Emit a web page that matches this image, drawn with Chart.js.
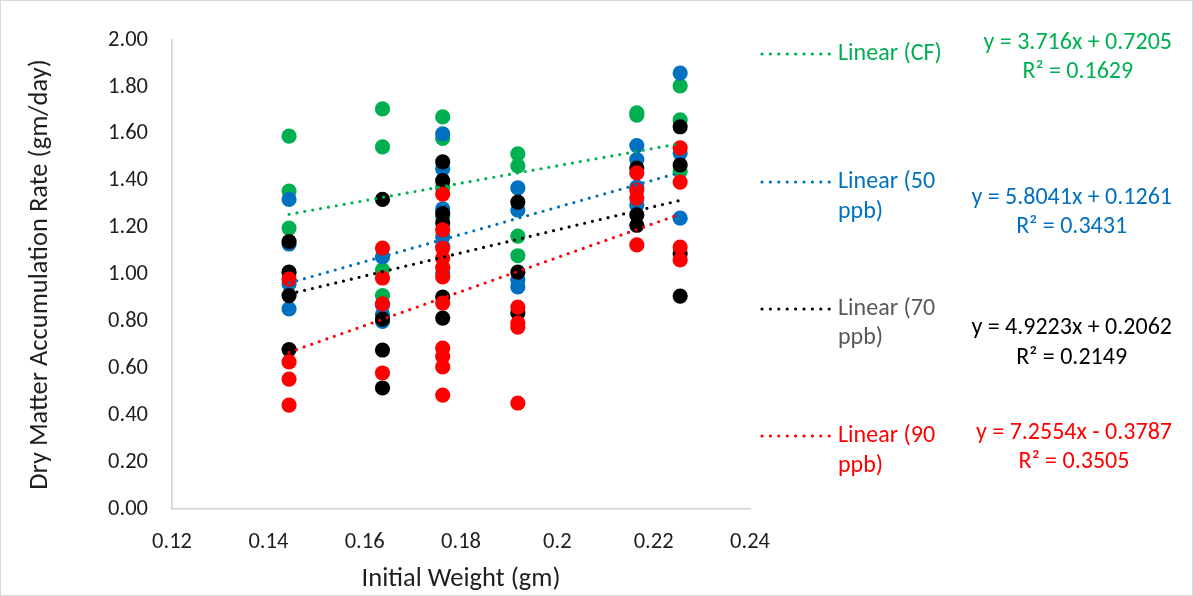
<!DOCTYPE html>
<html>
<head>
<meta charset="utf-8">
<script src="https://cdn.jsdelivr.net/npm/chart.js@4"></script>
<style>
  html, body { margin: 0; padding: 0; background: #fff; }
  #wrap { width: 1193px; height: 596px; position: relative; }
</style>
</head>
<body>
<div id="wrap"><canvas id="dmChart" width="1193" height="596"></canvas></div>
<script>
// initial weights (gm) of the plant groups
const weights = [0.1443, 0.1637, 0.1762, 0.1918, 0.2165, 0.2255];

// dry matter accumulation rate (gm/day), one inner list per weight
const cfRates = [
    [1.59, 1.356, 1.198],
    [1.706, 1.544, 1.02, 0.91],
    [1.672, 1.58, 1.37, 1.245],
    [1.514, 1.463, 1.164, 1.08],
    [1.689, 1.68],
    [1.804, 1.659, 1.44]
];
const ppb50Rates = [
    [1.32, 1.13, 0.96, 0.853],
    [1.075, 0.87, 0.83, 0.80],
    [1.60, 1.45, 1.28, 1.16, 1.12, 1.006],
    [1.369, 1.275, 0.977, 0.947],
    [1.55, 1.49, 1.373, 1.296],
    [1.859, 1.518, 1.24]
];
const ppb70Rates = [
    [1.14, 1.01, 0.91, 0.68],
    [1.32, 0.81, 0.678, 0.516],
    [1.48, 1.40, 1.26, 1.22, 0.904, 0.814],
    [1.309, 1.01, 0.836],
    [1.454, 1.254, 1.21],
    [1.63, 1.467, 1.09, 0.908]
];
const ppb90Rates = [
    [0.98, 0.627, 0.554, 0.443],
    [1.113, 0.985, 0.875, 0.58],
    [1.343, 1.19, 1.113, 1.07, 1.03, 0.99, 0.878, 0.686, 0.65, 0.606, 0.486],
    [0.861, 0.793, 0.776, 0.452],
    [1.433, 1.36, 1.326, 1.126],
    [1.54, 1.394, 1.117, 1.062]
];

// linear trendlines
const trendNames = ['Linear (CF)', 'Linear (50 ppb)', 'Linear (70 ppb)', 'Linear (90 ppb)'];
const slopes = [3.716, 5.8041, 4.9223, 7.2554];
const intercepts = [0.7205, 0.1261, 0.2062, -0.3787];
const rSquared = ['0.1629', '0.3431', '0.2149', '0.3505'];

const colors = ['#00B050', '#0070C0', '#000000', '#FF0000'];
const legendTextColors = ['#00B050', '#0070C0', '#595959', '#FF0000'];

const FONT = "Carlito, Calibri, 'Open Sans', sans-serif";
const TEXT = '#1e1e1e';
const AXIS = '#d0d0d0';

function toPoints(rates) {
    const pts = [];
    rates.forEach((list, i) => list.forEach(v => pts.push({ x: weights[i], y: v })));
    return pts;
}

const allSeries = [cfRates, ppb50Rates, ppb70Rates, ppb90Rates];
const xMin = Math.min(...weights), xMax = Math.max(...weights);

const trendSets = slopes.map((m, i) => ({
    label: trendNames[i],
    data: [{ x: xMin, y: m * xMin + intercepts[i] }, { x: xMax, y: m * xMax + intercepts[i] }],
    showLine: true,
    borderColor: colors[i],
    borderWidth: 3.2,
    borderDash: [0, 8],
    borderCapStyle: 'round',
    pointRadius: 0,
    order: 0
}));

// markers: later series sit on top of earlier ones
const markerSets = allSeries.map((rates, i) => ({
    label: ['CF', '50 ppb', '70 ppb', '90 ppb'][i],
    data: toPoints(rates),
    showLine: false,
    pointRadius: 7.6,
    pointHoverRadius: 7.6,
    pointBackgroundColor: colors[i],
    pointBorderColor: colors[i],
    pointBorderWidth: 0,
    order: 10 - i
}));

const sidePanel = {
    id: 'sidePanel',
    afterDraw(chart) {
        const ctx = chart.ctx;
        ctx.save();
        // outer frame
        ctx.strokeStyle = '#d9d9d9';
        ctx.lineWidth = 1;
        ctx.strokeRect(0.5, 0.5, chart.width - 1, chart.height - 1);

        const legendRows = [[54], [182, 212], [309, 338], [436, 466]];
        const eqRows = [[43, 72], [198, 227], [328, 358], [433, 462]];
        ctx.font = '24px ' + FONT;
        ctx.textBaseline = 'middle';
        trendNames.forEach((name, i) => {
            const y0 = legendRows[i][0];
            ctx.beginPath();
            ctx.setLineDash([0, 8.4]);
            ctx.lineCap = 'round';
            ctx.lineWidth = 3.2;
            ctx.strokeStyle = colors[i];
            ctx.moveTo(762, y0);
            ctx.lineTo(830, y0);
            ctx.stroke();
            ctx.setLineDash([]);

            ctx.fillStyle = legendTextColors[i];
            ctx.textAlign = 'left';
            const cut = name.lastIndexOf(' ');
            const lines = legendRows[i].length > 1 ? [name.slice(0, cut), name.slice(cut + 1)] : [name];
            lines.forEach((t, k) => ctx.fillText(t, 838, legendRows[i][k]));

            // equation block, right edge of the equation at x = 1172
            const b = intercepts[i];
            const eq = `y = ${slopes[i]}x ${b < 0 ? '-' : '+'} ${Math.abs(b)}`;
            const cx = 1172 - ctx.measureText(eq).width / 2;
            ctx.fillStyle = colors[i];
            ctx.textAlign = 'center';
            ctx.fillText(eq, cx, eqRows[i][0]);
            ctx.fillText('R\u00B2 = ' + rSquared[i], cx, eqRows[i][1]);
        });
        ctx.restore();
    }
};

new Chart(document.getElementById('dmChart'), {
    type: 'scatter',
    data: { datasets: [...trendSets, ...markerSets] },
    options: {
        responsive: false,
        animation: false,
        layout: { padding: { top: 40, right: 443, left: 20, bottom: 0 } },
        plugins: { legend: { display: false }, tooltip: { enabled: false } },
        scales: {
            x: {
                type: 'linear', min: 0.12, max: 0.24,
                afterFit: s => { s.height = 87; },
                grid: { display: false },
                border: { display: true, color: AXIS, width: 1.5 },
                ticks: {
                    stepSize: 0.02, padding: 12, color: TEXT,
                    font: { family: FONT, size: 22.5 },
                    callback: v => String(parseFloat(v.toFixed(2)))
                },
                title: {
                    display: true, text: 'Initial Weight (gm)', color: TEXT,
                    font: { family: FONT, size: 26.5 }, padding: { top: 4, bottom: 1 }
                }
            },
            y: {
                min: 0, max: 2,
                afterFit: s => { s.width = 152; },
                grid: { display: false },
                border: { display: true, color: AXIS, width: 1.5 },
                ticks: {
                    stepSize: 0.2, padding: 16, color: TEXT,
                    font: { family: FONT, size: 22.5 },
                    callback: v => v.toFixed(2)
                },
                title: {
                    display: true, text: 'Dry Matter Accumulation Rate (gm/day)', color: TEXT,
                    font: { family: FONT, size: 26.5 }
                }
            }
        }
    },
    plugins: [sidePanel]
});
</script>
</body>
</html>
